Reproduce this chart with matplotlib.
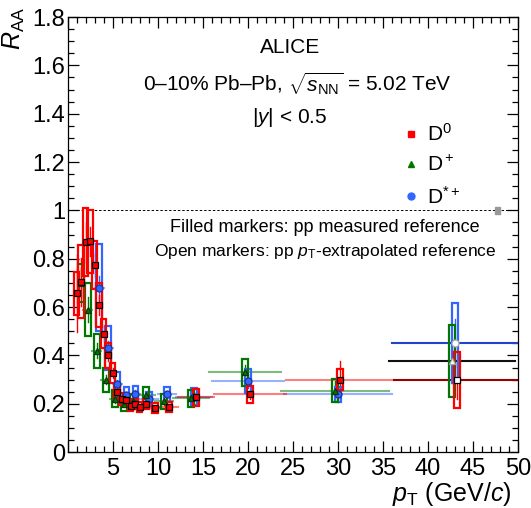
import numpy as np
import matplotlib.pyplot as plt
from matplotlib.patches import Rectangle
from matplotlib.lines import Line2D
from matplotlib.ticker import MultipleLocator, FormatStrFormatter, FuncFormatter

plt.rcParams['font.family'] = ['Liberation Sans', 'DejaVu Sans']
plt.rcParams['mathtext.fontset'] = 'custom'
plt.rcParams['mathtext.rm'] = 'Liberation Sans'
plt.rcParams['mathtext.it'] = 'Liberation Sans:italic'

# D0
pt_d0 = [0.75, 1.25, 1.75, 2.25, 2.75, 3.25, 3.75, 4.25, 4.75, 5.25, 5.75,
         6.25, 6.75, 7.25, 7.75, 8.5, 9.5, 11, 14, 20, 30, 43]
hw_d0 = [0.25]*15 + [0.5, 0.5, 1, 2, 4, 6, 7]
raa_d0 = [0.657, 0.705, 0.868, 0.872, 0.775, 0.608, 0.49, 0.40, 0.327, 0.25,
          0.219, 0.214, 0.189, 0.20, 0.186, 0.20, 0.182, 0.186, 0.227, 0.239,
          0.30, 0.298]
stat_d0 = [0.16, 0.10, 0.08, 0.06, 0.05, 0.04, 0.03, 0.025, 0.02, 0.015, 0.012,
           0.012, 0.01, 0.01, 0.01, 0.01, 0.01, 0.01, 0.015, 0.02, 0.075, 0.08]
syst_d0 = [0.09, 0.15, 0.14, 0.13, 0.10, 0.09, 0.06, 0.05, 0.04, 0.03, 0.025,
           0.025, 0.02, 0.02, 0.02, 0.02, 0.02, 0.02, 0.035, 0.035, 0.043, 0.117]

# D+
pt_dp = [1.75, 2.5, 3.5, 4.5, 5.5, 6.5, 7.5, 9, 11, 14, 20, 30, 43]
hw_dp = [0.25, 0.5, 0.5, 0.5, 0.5, 0.5, 0.5, 1, 1, 2, 4, 6, 7]
raa_dp = [0.70, 0.59, 0.42, 0.30, 0.22, 0.20, 0.21, 0.235, 0.21, 0.222, 0.33,
          0.254, 0.378]
stat_dp = [0.06, 0.05, 0.03, 0.02, 0.015, 0.012, 0.012, 0.012, 0.015, 0.02,
           0.03, 0.04, 0.09]
syst_dp = [0.08, 0.11, 0.07, 0.05, 0.035, 0.03, 0.03, 0.035, 0.03, 0.037,
           0.055, 0.047, 0.148]

# D*+
pt_ds = [3.5, 4.5, 5.5, 6.5, 7.5, 9, 11, 14, 20, 30, 43]
hw_ds = [0.5, 0.5, 0.5, 0.5, 0.5, 1, 1, 2, 4, 6, 7]
raa_ds = [0.68, 0.43, 0.28, 0.235, 0.24, 0.22, 0.239, 0.23, 0.295, 0.239, 0.452]
stat_ds = [0.05, 0.03, 0.02, 0.015, 0.015, 0.012, 0.015, 0.02, 0.03, 0.03, 0.1]
syst_ds = [0.18, 0.09, 0.05, 0.035, 0.035, 0.03, 0.03, 0.035, 0.05, 0.03, 0.165]

pt_extrap = 36  # bins above this use the pT-extrapolated pp reference


def draw(ax, pt, hw, raa, stat, syst, color, dark, marker, mfc, mec, dx, ms):
    for x, w, y, s, e in zip(pt, hw, raa, stat, syst):
        ext = x > pt_extrap
        x = x + dx
        ax.add_patch(Rectangle((x - 0.33, y - e), 0.66, 2*e, fill=False,
                               edgecolor=color, lw=1.6, zorder=3))
        ax.plot([x, x], [y - s, y + s], color=color, lw=1, zorder=2)
        ax.plot([x - w, x + w], [y, y], color=dark if ext else color,
                lw=1.5, alpha=1 if ext else 0.5, zorder=2)
        ax.plot(x, y, marker=marker, ms=ms, mfc='white' if ext else mfc,
                mec='black' if ext and marker == 's' else ('#aaaaaa' if ext else mec),
                mew=0.9, ls='none', zorder=4)


fig = plt.figure(figsize=(5.31, 5.08), dpi=100)
ax = fig.add_axes([0.128, 0.110, 0.8475, 0.8565])

draw(ax, pt_ds, hw_ds, raa_ds, stat_ds, syst_ds, '#3366ff', '#2244cc', 'o',
     '#3366ff', '#1a3399', 0.0, 5)
draw(ax, pt_dp, hw_dp, raa_dp, stat_dp, syst_dp, '#007700', '#111111', '^',
     '#007700', '#113311', -0.3, 5)
draw(ax, pt_d0, hw_d0, raa_d0, stat_d0, syst_d0, '#ff0000', '#990000', 's',
     '#ff0000', 'black', 0.2, 5)

ax.axhline(1, color='black', ls=(0, (2.5, 2)), lw=0.7, zorder=1)
ax.add_patch(Rectangle((47.4, 0.985), 0.6, 0.03, color='#999999', zorder=3))

ax.set_xlim(0, 50)
ax.set_ylim(0, 1.8)
ax.xaxis.set_major_locator(MultipleLocator(5))
ax.xaxis.set_minor_locator(MultipleLocator(1))
ax.xaxis.set_major_formatter(FuncFormatter(lambda v, p: '' if v == 0 else '%g' % v))
ax.yaxis.set_major_locator(MultipleLocator(0.2))
ax.yaxis.set_minor_locator(MultipleLocator(0.05))
ax.yaxis.set_major_formatter(FormatStrFormatter('%g'))
ax.tick_params(which='both', direction='in', top=True, right=True,
               labelsize=17, width=0.9)
ax.tick_params(which='major', length=8)
ax.tick_params(which='minor', length=4)
ax.tick_params(axis='x', pad=4)
ax.tick_params(axis='y', pad=2)
for sp in ax.spines.values():
    sp.set_linewidth(0.9)

ax.set_xlabel(r'$p_{\rm T}$ (GeV/$c$)', fontsize=18, labelpad=1)
ax.xaxis.set_label_coords(0.985, -0.065)
ax.xaxis.label.set_horizontalalignment('right')
ax.set_ylabel(r'$R_{\rm AA}$', fontsize=18, loc='top')
ax.yaxis.set_label_coords(-0.09, 1.025)

ax.text(0.493, 0.929, 'ALICE', transform=ax.transAxes, ha='center',
        va='center', fontsize=15)
ax.text(0.51, 0.848, r'0–10% Pb–Pb, $\sqrt{s_{\rm NN}}$ = 5.02 TeV',
        transform=ax.transAxes, ha='center', va='center', fontsize=15)
ax.text(0.493, 0.768, r'|$y$| < 0.5', transform=ax.transAxes, ha='center',
        va='center', fontsize=15)
ax.text(0.571, 0.517, 'Filled markers: pp measured reference',
        transform=ax.transAxes, ha='center', va='center', fontsize=13)
ax.text(0.571, 0.462, r'Open markers: pp $p_{\rm T}$-extrapolated reference',
        transform=ax.transAxes, ha='center', va='center', fontsize=12.5)

handles = [
    Line2D([], [], marker='s', color='#ff0000', ls='none', ms=5),
    Line2D([], [], marker='^', color='#007700', ls='none', ms=5),
    Line2D([], [], marker='o', color='#3366ff', ls='none', ms=5),
]
ax.legend(handles, [r'D$^0$', r'D$^+$', r'D$^{*+}$'], frameon=False,
          fontsize=15, loc='upper left', bbox_to_anchor=(0.695, 0.79),
          handletextpad=0.0, labelspacing=0.5, handlelength=1.5,
          borderpad=0.2)

fig.savefig('out.png', dpi=100)
